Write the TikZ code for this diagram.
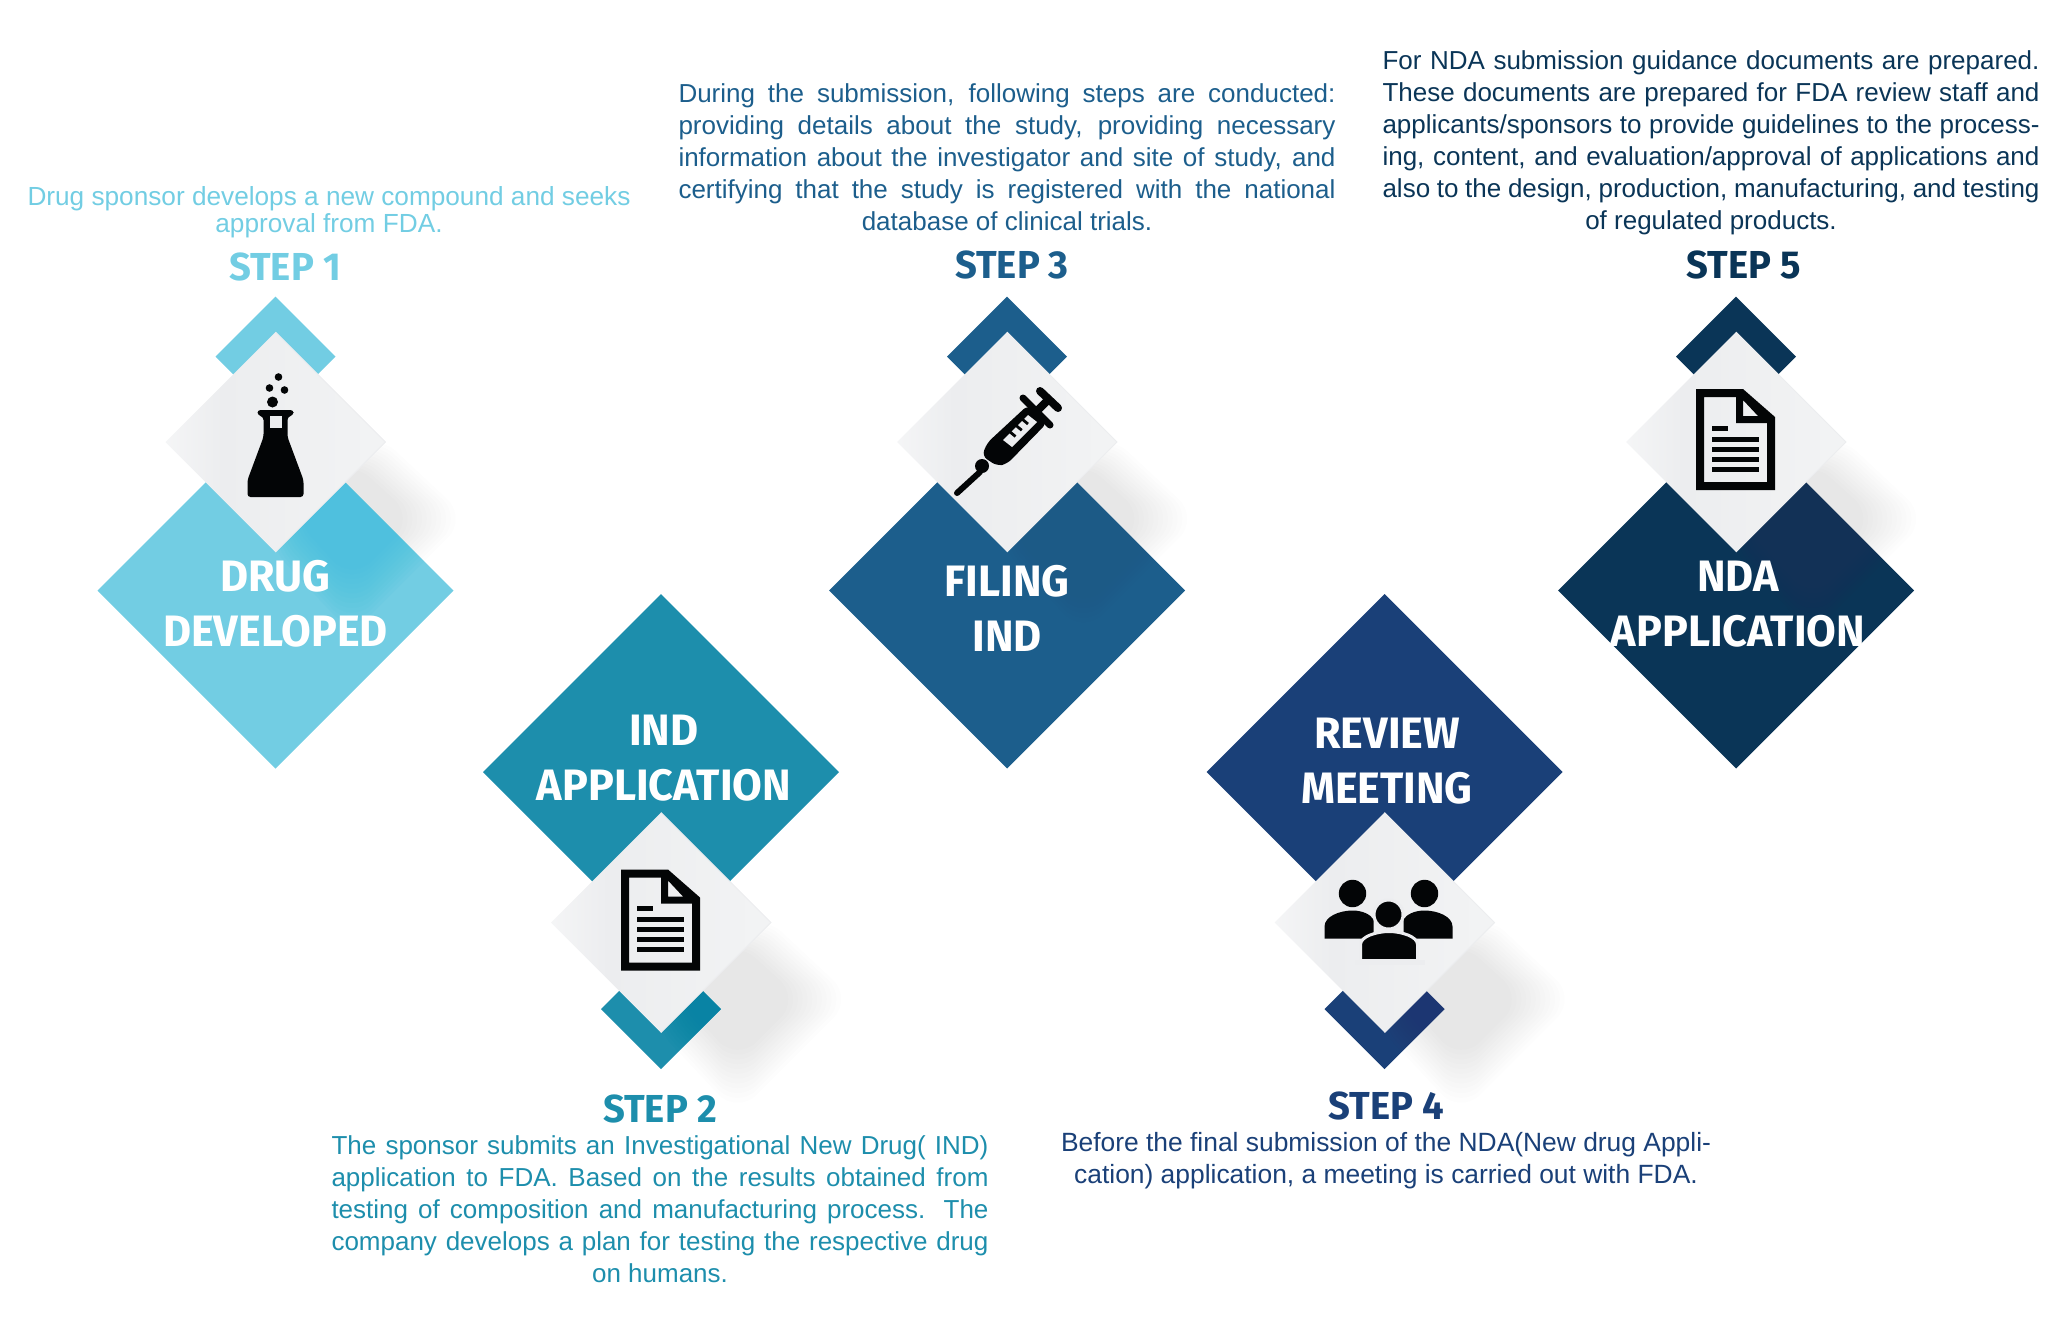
\documentclass[tikz,border=0pt]{standalone}
\usepackage{fontspec}
\setmainfont{Liberation Sans}
\newfontfamily\headfont[FakeStretch=0.98]{Fira Sans}
\usepackage{tikz}
\usetikzlibrary{shapes.geometric}
\definecolor{stepa}{HTML}{72CDE3}
\definecolor{stepb}{HTML}{1D8EAC}
\definecolor{stepc}{HTML}{1C5E8C}
\definecolor{stepd}{HTML}{1A4078}
\definecolor{stepe}{HTML}{0A3557}
\definecolor{spota}{HTML}{45C0DE}
\definecolor{spotb}{HTML}{0483A4}
\definecolor{spotc}{HTML}{1C5A86}
\definecolor{spotd}{HTML}{273672}
\definecolor{spote}{HTML}{1D3156}
\definecolor{facegray}{HTML}{ECEDEF}
\definecolor{facelight}{HTML}{F7F8F8}
\definecolor{iconink}{HTML}{030506}
\pgfdeclarehorizontalshading{smallface}{100bp}{
  color(0bp)=(white); color(9bp)=(white); color(38bp)=(facegray); color(100bp)=(facelight)}
\newcommand{\fullwidth}{\parfillskip=0pt\relax}
\tikzset{
  bigdia/.style={diamond, minimum size=178pt, inner sep=0pt, outer sep=0pt},
  backdia/.style={diamond, minimum size=60pt, inner sep=0pt, outer sep=0pt},
  smalldia/.style={diamond, minimum size=110pt, inner sep=0pt, outer sep=0pt, shading=smallface},
  bodytext/.style={font=\fontsize{13}{16}\selectfont, text width=328.5pt, align=justify, inner sep=0pt},
  steptitle/.style={font=\headfont\bfseries\fontsize{19.5}{24}\selectfont, inner sep=0pt},
  dialabel/.style={font=\headfont\bfseries\fontsize{22}{27.5}\selectfont, text=white, align=center, inner sep=0pt},
}
\newcommand{\softband}[1]{
  \foreach \k [evaluate=\k as \inset using \k*2.4] in {0,...,11}{
    \fill[#1, rounded corners=14pt] (100-\inset,-10+\inset) -- (192-2*\inset,76)
      -- (76,192-2*\inset) -- (-10+\inset,100-\inset) -- cycle;
  }
}
\newcommand{\stepblock}[7]{
  \begin{scope}[shift={(#2,#3)}]
    \softband{black,opacity=.0095}
    \node[bigdia,fill=#5] (#1big) at (0,#4) {};
    \node[backdia,fill=#5] (#1back) at (0,#4*-.575) {};
    \begin{scope}
      \clip (#1big.north) -- (#1big.east) -- (#1big.south) -- (#1big.west) -- cycle
            (#1back.north) -- (#1back.east) -- (#1back.south) -- (#1back.west) -- cycle;
      \softband{#6,opacity=.09}
    \end{scope}
    \node[smalldia] (#1small) at (0,0) {};
    \draw[facegray,line width=.5pt] (#1small.north) -- (#1small.east) -- (#1small.south);
    #7
  \end{scope}
}
\newcommand{\flaskicon}{
  \fill[iconink] (-3,-40) circle (5.5) (-6,-54) circle (3.8) (9,-52) circle (3.8) (3,-65) circle (3.8);
  \fill[iconink,rounded corners=1.5pt] (-18,-32) -- (18,-32) -- (18,-27) -- (12,-25) -- (12,-5)
    -- (28,38) -- (28,55) -- (-28,55) -- (-28,38) -- (-12,-5) -- (-12,-25) -- (-18,-27) -- cycle;
  \fill[facegray] (-6,-26) rectangle (6,-14);
}
\newcommand{\docicon}{
  \fill[iconink,even odd rule] (-40,-53) -- (7,-53) -- (39,-25) -- (39,48) -- (-40,48) -- cycle
    (-32,-45) -- (0,-45) -- (0,-19) -- (31,-19) -- (31,40) -- (-32,40) -- cycle
    (7,-42) -- (7,-26) -- (22,-26) -- cycle;
  \fill[iconink] (-24,-16.5) rectangle (-8,-11.5);
  \foreach \y in {-3,7,17,27}{
    \fill[iconink] (-24,\y-2.5) rectangle (23,\y+2.5);
  }
}
\newcommand{\syringeicon}{
  \draw[iconink,line width=3pt,line cap=round] (-50,51) -- (-27,30);
  \fill[iconink] (-25,24) circle (7);
  \fill[iconink,rounded corners=3pt] (-20,1) -- (21,-37) -- (40,-19) -- (0,22) -- (-10,24) -- (-25,14) -- cycle;
  \draw[iconink,line width=3.5pt,line cap=round] (16,-44) -- (43,-17);
  \draw[iconink,line width=4pt] (29,-30) -- (42,-43);
  \draw[iconink,line width=4pt,line cap=round] (33,-51) -- (51,-34);
  \fill[facegray] (-4,-2) -- (5,5) -- (30,-20) -- (21,-27) -- cycle;
  \foreach \x/\y in {3.5/-9.5, 9.75/-15.75, 16/-22}{
    \draw[iconink,line width=1.4pt] (\x-1,\y-1) -- (\x+5,\y+4);
  }
}
\newcommand{\peopleicon}{
  \fill[iconink] (-32,-29) circle (13.7) (40,-29) circle (13.7);
  \fill[iconink] (-60,16) -- (-60,4) .. controls (-60,-6) and (-45,-12) .. (-32,-12)
    .. controls (-22,-12) and (-14,-8) .. (-11,-3) -- (-11,16) -- cycle;
  \fill[iconink] (68,16) -- (68,4) .. controls (68,-6) and (53,-12) .. (40,-12)
    .. controls (30,-12) and (22,-8) .. (19,-3) -- (19,16) -- cycle;
  \draw[facegray,line width=1.5pt,fill=iconink] (4,-8) circle (14.5);
  \draw[facegray,line width=1.5pt,fill=iconink] (-24,38) -- (-24,22) .. controls (-24,14) and (-8,9) .. (4.5,9)
    .. controls (17,9) and (33,14) .. (33,22) -- (33,38) -- cycle;
  \fill[facegray] (-30,37.5) rectangle (40,42);
}

\begin{document}
\begin{tikzpicture}[x=.5pt,y=-.5pt]
  \useasboundingbox (0,0) rectangle (2048,1323);

  \stepblock{drug}{275.5}{442}{148.5}{stepa}{spota}{\flaskicon}
  \stepblock{ind}{661}{922.5}{-150.5}{stepb}{spotb}{\docicon}
  \stepblock{filing}{1007}{442}{148.5}{stepc}{spotc}{\syringeicon}
  \stepblock{review}{1384.5}{922.5}{-150.5}{stepd}{spotd}{\peopleicon}
  \stepblock{nda}{1736}{442}{148.5}{stepe}{spote}{\docicon}

  \node[dialabel] (druglabel)   at (275.5,603.5) {DRUG\\DEVELOPED};
  \node[dialabel] (indlabel)    at (664,758)     {IND\\APPLICATION};
  \node[dialabel] (filinglabel) at (1007,608)    {FILING\\IND};
  \node[dialabel] (reviewlabel) at (1387,761)    {REVIEW\\MEETING};
  \node[dialabel] (ndalabel)    at (1738,604)    {NDA\\APPLICATION};

  \node[steptitle,text=stepa] (stepone)   at (285,267)   {STEP 1};
  \node[steptitle,text=stepb] (steptwo)   at (660,1109)  {STEP 2};
  \node[steptitle,text=stepc] (stepthree) at (1012,265)  {STEP 3};
  \node[steptitle,text=stepd] (stepfour)  at (1386,1106) {STEP 4};
  \node[steptitle,text=stepe] (stepfive)  at (1744,265)  {STEP 5};

  \node[font=\fontsize{13.1}{13.5}\selectfont, align=center, inner sep=0pt, text=stepa] (textone) at (329,212.2)
    {Drug sponsor develops a new compound and seeks\\approval from FDA.};
  \node[bodytext,text=stepb] (texttwo) at (660,1209) {\fullwidth
    The sponsor submits an Investigational New Drug( IND)\linebreak
    application to FDA. Based on the results obtained from\linebreak
    testing of composition and manufacturing process. The\linebreak
    company develops a plan for testing the respective drug\par
    {\centering on humans.\par}};
  \node[bodytext,text=stepc] (textthree) at (1007,157) {\fullwidth
    During the submission, following steps are conducted:\linebreak
    providing details about the study, providing necessary\linebreak
    information about the investigator and site of study, and\linebreak
    certifying that the study is registered with the national\par
    {\centering database of clinical trials.\par}};
  \node[font=\fontsize{13.2}{16}\selectfont, align=center, inner sep=0pt, text=stepd] (textfour) at (1386,1161)
    {Before the final submission of the NDA(New drug Appli-\\cation) application, a meeting is carried out with FDA.};
  \node[bodytext,text=stepe] (textfive) at (1711,143) {\fullwidth
    For NDA submission guidance documents are prepared.\linebreak
    These documents are prepared for FDA review staff and\linebreak
    applicants/sponsors to provide guidelines to the process-\linebreak
    ing, content, and evaluation/approval of applications and\linebreak
    also to the design, production, manufacturing, and testing\par
    {\centering of regulated products.\par}};
\end{tikzpicture}
\end{document}
